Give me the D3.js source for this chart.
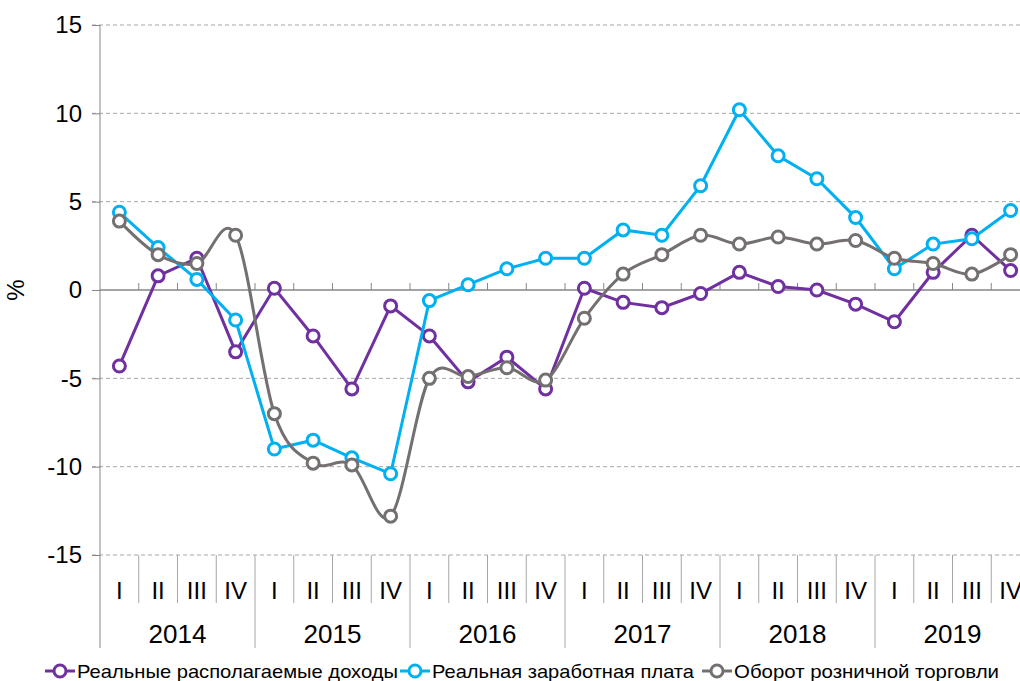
<!DOCTYPE html>
<html lang="ru">
<head>
    <meta charset="UTF-8">
    <title>Доходы, зарплата и оборот торговли</title>
    <script src="https://d3js.org/d3.v7.min.js"></script>
    <style>
        body { margin: 0; background: #fff; }
        svg { display: block; font-family: Arial, "Liberation Sans", sans-serif; }
        .grid line { stroke: #a6a6a6; stroke-dasharray: 4 3; }
    </style>
</head>
<body>
<svg width="1020" height="681"></svg>
<script>
    // quarters and years
    const years = ["2014", "2015", "2016", "2017", "2018", "2019"];
    const quarters = ["I", "II", "III", "IV"];
    const yTicks = [-15, -10, -5, 0, 5, 10, 15];

    // series values, %
    const incomes = [-4.3, 0.8, 1.8, -3.5, 0.1, -2.6, -5.6, -0.9, -2.6, -5.2, -3.8, -5.6,
                     0.1, -0.7, -1.0, -0.2, 1.0, 0.2, 0.0, -0.8, -1.8, 1.0, 3.1, 1.1];
    const wages = [4.4, 2.4, 0.6, -1.7, -9.0, -8.5, -9.5, -10.4, -0.6, 0.3, 1.2, 1.8,
                   1.8, 3.4, 3.1, 5.9, 10.2, 7.6, 6.3, 4.1, 1.2, 2.6, 2.9, 4.5];
    const retail = [3.9, 2.0, 1.5, 3.1, -7.0, -9.8, -9.9, -12.8, -5.0, -4.9, -4.4, -5.1,
                    -1.6, 0.9, 2.0, 3.1, 2.6, 3.0, 2.6, 2.8, 1.8, 1.5, 0.9, 2.0];

    const seriesNames = ["Реальные располагаемые доходы", "Реальная заработная плата", "Оборот розничной торговли"];
    const colors = ["#7030a0", "#00b0f0", "#747070"];

    const keys = [];
    years.forEach(yr => quarters.forEach(q => keys.push(yr + "-" + q)));

    const series = [incomes, wages, retail].map((vals, i) => ({
        name: seriesNames[i], color: colors[i], smooth: i === 2,
        points: vals.map((v, j) => ({ key: keys[j], v: v }))
    }));

    const svg = d3.select("svg");
    const plotL = 100, plotR = 1030, plotT = 25, plotB = 555;

    const x = d3.scaleBand().domain(keys).range([plotL, plotR]);
    const y = d3.scaleLinear().domain([-15, 15]).range([plotB, plotT]);
    const cx = k => x(k) + x.bandwidth() / 2;

    // dashed gridlines
    svg.append("g").attr("class", "grid")
        .selectAll("line").data(yTicks.filter(d => d !== 0)).join("line")
        .attr("x1", plotL - 8).attr("x2", plotR)
        .attr("y1", d => y(d)).attr("y2", d => y(d));

    // y axis (plain hyphen for negatives, like the original)
    const yAxis = svg.append("g").attr("transform", `translate(${plotL},0)`)
        .call(d3.axisLeft(y).tickValues(yTicks).tickSize(8).tickPadding(10)
            .tickFormat(d => String(d)));
    yAxis.select(".domain").remove();
    yAxis.selectAll(".tick line").attr("stroke", "#868686");
    yAxis.selectAll(".tick text").attr("font-size", 24).attr("fill", "#000");
    svg.append("line").attr("x1", plotL).attr("x2", plotL).attr("y1", plotT).attr("y2", 648)
        .attr("stroke", "#868686");

    svg.append("text").attr("transform", `translate(24,${y(0)}) rotate(-90)`)
        .attr("text-anchor", "middle").attr("font-size", 24).text("%");

    // zero line with upward ticks at quarter borders
    svg.append("line").attr("x1", plotL).attr("x2", plotR).attr("y1", y(0)).attr("y2", y(0))
        .attr("stroke", "#868686").attr("stroke-width", 1.5);
    svg.append("g").selectAll("line").data(keys.slice(1)).join("line")
        .attr("x1", d => x(d)).attr("x2", d => x(d))
        .attr("y1", y(0)).attr("y2", y(0) - 7).attr("stroke", "#868686");

    // category axis: quarter cells and year groups
    svg.append("g").selectAll("line").data(keys.slice(1)).join("line")
        .attr("x1", d => x(d)).attr("x2", d => x(d))
        .attr("y1", plotB).attr("y2", d => d.endsWith("-I") ? 648 : 603)
        .attr("stroke", "#a6a6a6");
    svg.append("g").selectAll("text").data(keys).join("text")
        .attr("x", d => cx(d)).attr("y", 599)
        .attr("text-anchor", "middle").attr("font-size", 24)
        .text(d => d.split("-")[1]);
    svg.append("g").selectAll("text").data(years).join("text")
        .attr("x", d => (x(d + "-I") + x(d + "-IV") + x.bandwidth()) / 2).attr("y", 643)
        .attr("text-anchor", "middle").attr("font-size", 26)
        .text(d => d);

    // lines + markers
    series.forEach(s => {
        const line = d3.line().x(d => cx(d.key)).y(d => y(d.v))
            .curve(s.smooth ? d3.curveCardinal.tension(0) : d3.curveLinear);
        const g = svg.append("g");
        g.append("path").datum(s.points).attr("d", line)
            .attr("fill", "none").attr("stroke", s.color).attr("stroke-width", 3);
        g.selectAll("circle").data(s.points).join("circle")
            .attr("cx", d => cx(d.key)).attr("cy", d => y(d.v)).attr("r", 6)
            .attr("fill", "#fff").attr("stroke", s.color).attr("stroke-width", 3);
    });

    // legend
    const legendX = [45, 400, 702];
    const legendW = [321, 262, 265];
    const legend = svg.append("g").selectAll("g").data(series).join("g")
        .attr("transform", (d, i) => `translate(${legendX[i]},671)`);
    legend.append("line").attr("x1", 0).attr("x2", 30)
        .attr("stroke", d => d.color).attr("stroke-width", 3);
    legend.append("circle").attr("cx", 15).attr("r", 6)
        .attr("fill", "#fff").attr("stroke", d => d.color).attr("stroke-width", 3);
    legend.append("text").attr("x", 32).attr("y", 7).attr("font-size", 19)
        .attr("textLength", (d, i) => legendW[i]).attr("lengthAdjust", "spacingAndGlyphs")
        .text(d => d.name);
</script>
</body>
</html>
